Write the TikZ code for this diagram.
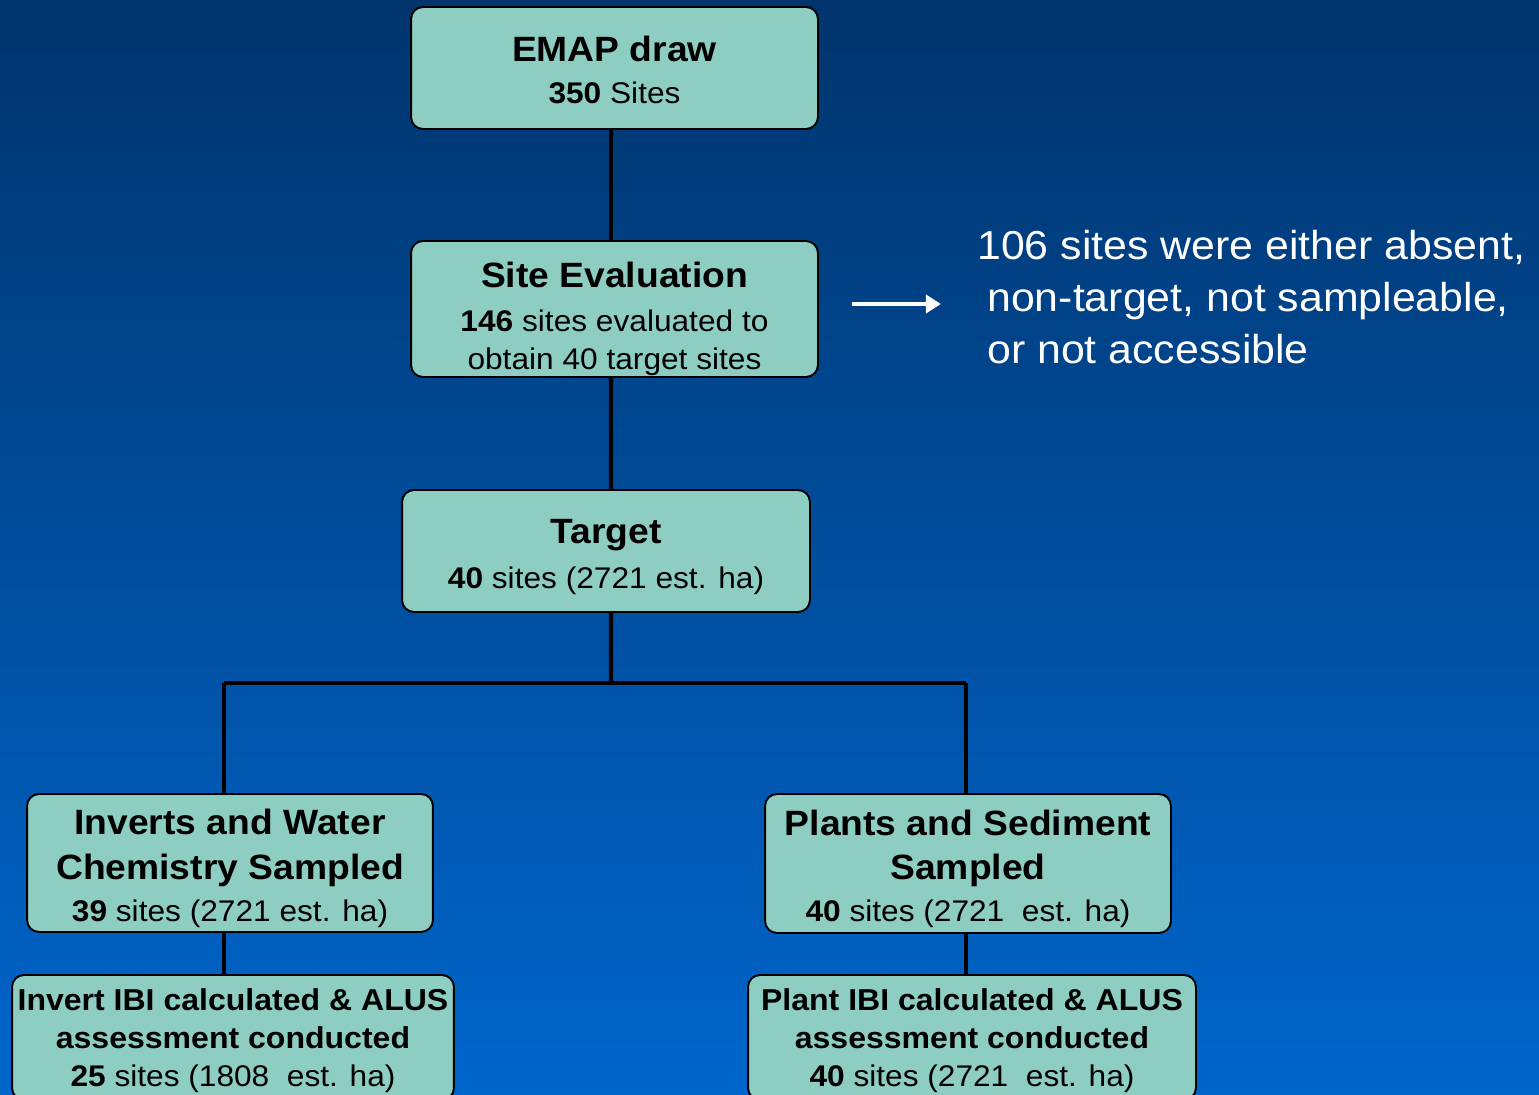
\documentclass[tikz,border=0pt]{standalone}
\usepackage{fontspec}
\setmainfont[FakeStretch=1.06]{Liberation Sans}
\usetikzlibrary{positioning,arrows.meta}
\definecolor{boxfill}{RGB}{142,206,194}
\definecolor{bgtop}{RGB}{0,52,108}
\definecolor{bgbot}{RGB}{0,102,204}
\newcommand{\ttlfont}{\fontsize{20}{25}\selectfont\bfseries}
\newcommand{\numfont}{\fontsize{17}{22}\selectfont}
\newcommand{\ibifont}{\fontsize{17.2}{21.5}\selectfont\bfseries}

\begin{document}
\begin{tikzpicture}
[x=0.02cm,y=-0.02cm,>=Triangle,
 stage/.style={draw=black,line width=1.1pt,fill=boxfill,rounded corners=0.24cm,align=center,inner sep=0pt,font=\numfont},
 link/.style={line width=2.3pt,black},
 pointer/.style={-{Triangle[length=0.3cm,width=0.36cm]},line width=2.3pt,white}]

% the background
\shade[top color=bgtop,bottom color=bgbot] (0,0) rectangle (1539,1095);
\useasboundingbox (0,0) rectangle (1539,1095);

% the split points
\coordinate (split) at (611,683);
\coordinate (lft) at (224,683);
\coordinate (rgt) at (966,683);

% the boxes
\node (emap) at (614.5,68)[stage,minimum width=8.14cm,minimum height=2.44cm]
  {{\ttlfont\rule{0pt}{16.5pt}EMAP draw}\\[1.8pt] \textbf{350} Sites};
\node (eval) at (614.5,309)[stage,minimum width=8.14cm,minimum height=2.72cm]
  {{\ttlfont\rule{0pt}{26pt}Site Evaluation}\\[3pt] \textbf{146} sites evaluated to\\[-0.5pt] obtain 40 target sites};
\node (target) at (606,551)[stage,minimum width=8.16cm,minimum height=2.44cm]
  {{\ttlfont\rule{0pt}{21pt}Target}\\[3.5pt] \textbf{40} sites (2721 est. ha)};
\node (inverts) at (230,863)[stage,minimum width=8.12cm,minimum height=2.76cm]
  {{\ttlfont\rule{0pt}{20.5pt}Inverts and Water}\\[3.5pt] {\ttlfont Chemistry Sampled}\\[1.8pt] \textbf{39} sites (2721 est. ha)};
\node (plants) at (968,863.5)[stage,minimum width=8.12cm,minimum height=2.78cm]
  {{\ttlfont\rule{0pt}{20.5pt}Plants and Sediment}\\[3.5pt] {\ttlfont Sampled}\\[1.8pt] \textbf{40} sites (2721\ \ est. ha)};
\node (invibi) at (233,1037.5)[stage,minimum width=8.84cm,minimum height=2.5cm]
  {{\ibifont\rule{0pt}{16pt}Invert IBI calculated \& ALUS}\\[-0.5pt] {\ibifont assessment conducted}\\[-0.5pt] \textbf{25} sites (1808\ \ est. ha)};
\node (plantibi) at (972,1037.5)[stage,minimum width=8.96cm,minimum height=2.5cm]
  {{\ibifont\rule{0pt}{16pt}Plant IBI calculated \& ALUS}\\[-0.5pt] {\ibifont assessment conducted}\\[-0.5pt] \textbf{40} sites (2721\ \ est. ha)};

% the note
\node (note) at (977,297)[anchor=west,text=white,align=left,inner sep=0pt,font=\fontsize{23}{29.5}\selectfont]
  {106 sites were either absent,\\ \hspace*{0.2cm}non-target, not sampleable,\\ \hspace*{0.2cm}or not accessible};

% the connectors
\draw[link] ([xshift=-0.07cm]emap.south) -- ([xshift=-0.07cm]eval.north);
\draw[link] ([xshift=-0.07cm]eval.south) -- ([xshift=0.1cm]target.north);
\draw[link] ([xshift=0.1cm]target.south) -- (split);
\draw[link] (lft) -- (rgt);
\draw[link] (lft) -- (lft |- inverts.north);
\draw[link] (rgt) -- (rgt |- plants.north);
\draw[link] (inverts.south -| lft) -- (invibi.north -| lft);
\draw[link] (plants.south -| rgt) -- (plantibi.north -| rgt);
\draw[pointer] ([shift={(0.66cm,0.1cm)}]eval.east) -- ++(1.78cm,0);

\end{tikzpicture}
\end{document}
